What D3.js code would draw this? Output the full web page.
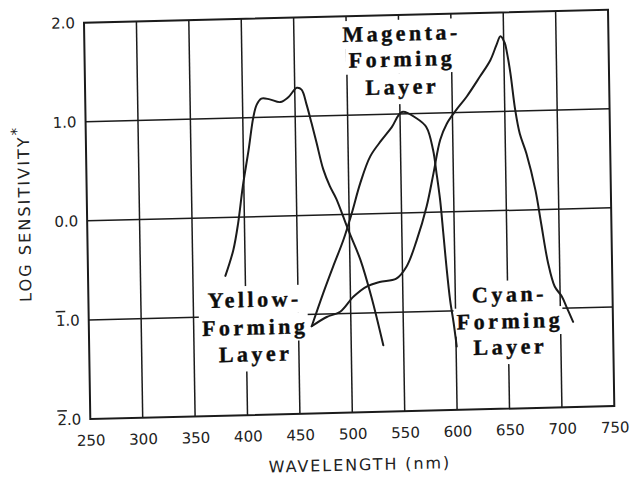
<!DOCTYPE html>
<html><head><meta charset="utf-8">
<script src="https://cdn.jsdelivr.net/npm/d3@7"></script>
<style>body{margin:0;background:#fff}svg{display:block}</style>
</head><body>
<svg id="chart" width="634" height="477"></svg>
<script>
// ---- data ----
const xTicks = [250, 300, 350, 400, 450, 500, 550, 600, 650, 700, 750];
const yTicks = [2, 1, 0, -1, -2];
const yTickLabels = ["2.0", "1.0", "0.0", "1.0", "2.0"];
const yTickBar = [false, false, false, true, true]; // bar notation for negative characteristic
const xTitle = "WAVELENGTH (nm)";
const yTitle = "LOG SENSITIVITY";

const yellowWl  = [381, 389, 394, 399, 405, 410, 413.5, 418, 426, 436, 444, 452, 456.5, 461, 465.5, 470, 476, 482, 488, 499, 510, 520, 530.6];
const yellowLog = [-0.59, -0.33, -0.06, 0.31, 0.67, 1.0, 1.13, 1.19, 1.18, 1.15, 1.20, 1.29, 1.27, 1.12, 0.93, 0.73, 0.46, 0.29, 0.16, -0.16, -0.46, -0.84, -1.33];

const magentaWl  = [462.6, 474, 484, 494, 502.5, 511, 521, 532, 542, 552, 566, 575, 581, 584, 587, 589.5, 592, 595, 598, 600.6];
const magentaLog = [-1.12, -0.79, -0.52, -0.26, 0.01, 0.31, 0.58, 0.74, 0.87, 1.02, 0.95, 0.86, 0.63, 0.39, 0.12, -0.21, -0.55, -0.89, -1.12, -1.36];

const cyanWl  = [462.6, 477, 490, 503, 516, 528, 544, 554, 564, 574, 581, 588, 594.5, 602.5, 614, 627, 637, 643, 647, 651, 653, 656, 660, 664, 670, 678, 683, 689, 695, 701.5, 706, 712];
const cyanLog = [-1.12, -1.03, -0.98, -0.83, -0.73, -0.69, -0.66, -0.54, -0.28, 0.06, 0.39, 0.73, 0.89, 1.01, 1.16, 1.36, 1.52, 1.67, 1.76, 1.69, 1.59, 1.38, 1.01, 0.77, 0.57, 0.20, -0.14, -0.54, -0.78, -0.88, -0.99, -1.14];

const layerNames = [["Yellow-", "Forming", "Layer"], ["Magenta-", "Forming", "Layer"], ["Cyan-", "Forming", "Layer"]];
// label anchor positions (data units: wavelength, log sensitivity of each baseline)
const labelWl = [407, 551, 650];
const labelLog = [[-0.91, -1.19, -1.46], [1.74, 1.48, 1.20], [-0.92, -1.19, -1.45]];

// ---- layout ----
const W = 524, H = 396.3;
const ink = "#1b1b1b";
const svg = d3.select("#chart");
svg.append("rect").attr("width", 634).attr("height", 477).attr("fill", "#fff");
// the printed figure is slightly skewed on the page
const g = svg.append("g").attr("transform", "matrix(1,-0.0248,0.0159,1,84,22.7)");

const x = d3.scaleLinear().domain([250, 750]).range([0, W]);
const y = d3.scaleLinear().domain([-2, 2]).range([H, 0]);

// grid lines
const grid = g.append("g").attr("stroke", ink).attr("stroke-width", 1.5);
grid.selectAll(".vx").data(xTicks.slice(1, -1)).join("line")
  .attr("x1", d => x(d)).attr("x2", d => x(d)).attr("y1", 0).attr("y2", H);
grid.selectAll(".hy").data(yTicks.slice(1, -1)).join("line")
  .attr("x1", 0).attr("x2", W).attr("y1", d => y(d)).attr("y2", d => y(d));

// label white-outs + text
const boxLayer = g.append("g");
const textLayer = g.append("g");
const ls = 3.5;
layerNames.forEach((lines, i) => {
  lines.forEach((t, j) => {
    const tx = textLayer.append("text")
      .attr("x", x(labelWl[i]) + ls / 2).attr("y", y(labelLog[i][j]))
      .attr("text-anchor", "middle")
      .attr("font-family", "'Liberation Serif', 'Times New Roman', serif")
      .attr("font-weight", "bold").attr("font-size", 22)
      .attr("letter-spacing", ls).attr("fill", "#0d0d0d")
      .attr("stroke", "#0d0d0d").attr("stroke-width", 0.4)
      .text(t);
    const bb = tx.node().getBBox();
    const base = y(labelLog[i][j]);
    const bottom = j === lines.length - 1 ? base + 10 : base + 7;
    boxLayer.append("rect")
      .attr("x", bb.x - 3).attr("width", bb.width - ls + 6)
      .attr("y", base - 21).attr("height", bottom - (base - 21))
      .attr("fill", "#fff");
  });
});

// frame
g.append("rect").attr("x", 0).attr("y", 0).attr("width", W).attr("height", H)
  .attr("fill", "none").attr("stroke", ink).attr("stroke-width", 2);

// curves
const line = d3.line().x(d => x(d[0])).y(d => y(d[1])).curve(d3.curveCatmullRom.alpha(0.5));
[[yellowWl, yellowLog], [magentaWl, magentaLog], [cyanWl, cyanLog]].forEach(([wl, lg]) => {
  g.append("path").datum(wl.map((w, k) => [w, lg[k]]))
    .attr("d", line).attr("fill", "none").attr("stroke", ink)
    .attr("stroke-width", 2).attr("stroke-linejoin", "round").attr("stroke-linecap", "round");
});

// axes (labels only)
const font = "'DejaVu Sans', Verdana, sans-serif";
const xa = g.append("g").attr("transform", `translate(0,${H})`)
  .call(d3.axisBottom(x).tickValues(xTicks).tickSize(0).tickPadding(16).tickFormat(d3.format("d")));
const ya = g.append("g")
  .call(d3.axisLeft(y).tickValues(yTicks).tickSize(0).tickPadding(9).tickFormat(() => ""));
[xa, ya].forEach(a => {
  a.select(".domain").remove();
  a.selectAll("text").attr("font-family", font).attr("font-size", 15).attr("fill", "#222");
});
ya.selectAll(".tick text").each(function (d, i) {
  const t = d3.select(this);
  const s = yTickLabels[i];
  t.append("tspan").style("text-decoration", yTickBar[i] ? "overline" : "none").text(s[0]);
  t.append("tspan").text(s.slice(1));
});

// titles
g.append("text").attr("x", 268.8).attr("y", H + 58)
  .attr("text-anchor", "middle").attr("font-family", font).attr("font-size", 16)
  .attr("letter-spacing", 1.9).attr("fill", "#222").text(xTitle);
const yt = g.append("text").attr("transform", "translate(-57,189.5) rotate(-90)")
  .attr("text-anchor", "middle").attr("font-family", font).attr("font-size", 16)
  .attr("letter-spacing", 2.1).attr("fill", "#222");
yt.append("tspan").text(yTitle);
yt.append("tspan").attr("dy", -7).attr("font-size", 15).text("*");
</script>
</body></html>
